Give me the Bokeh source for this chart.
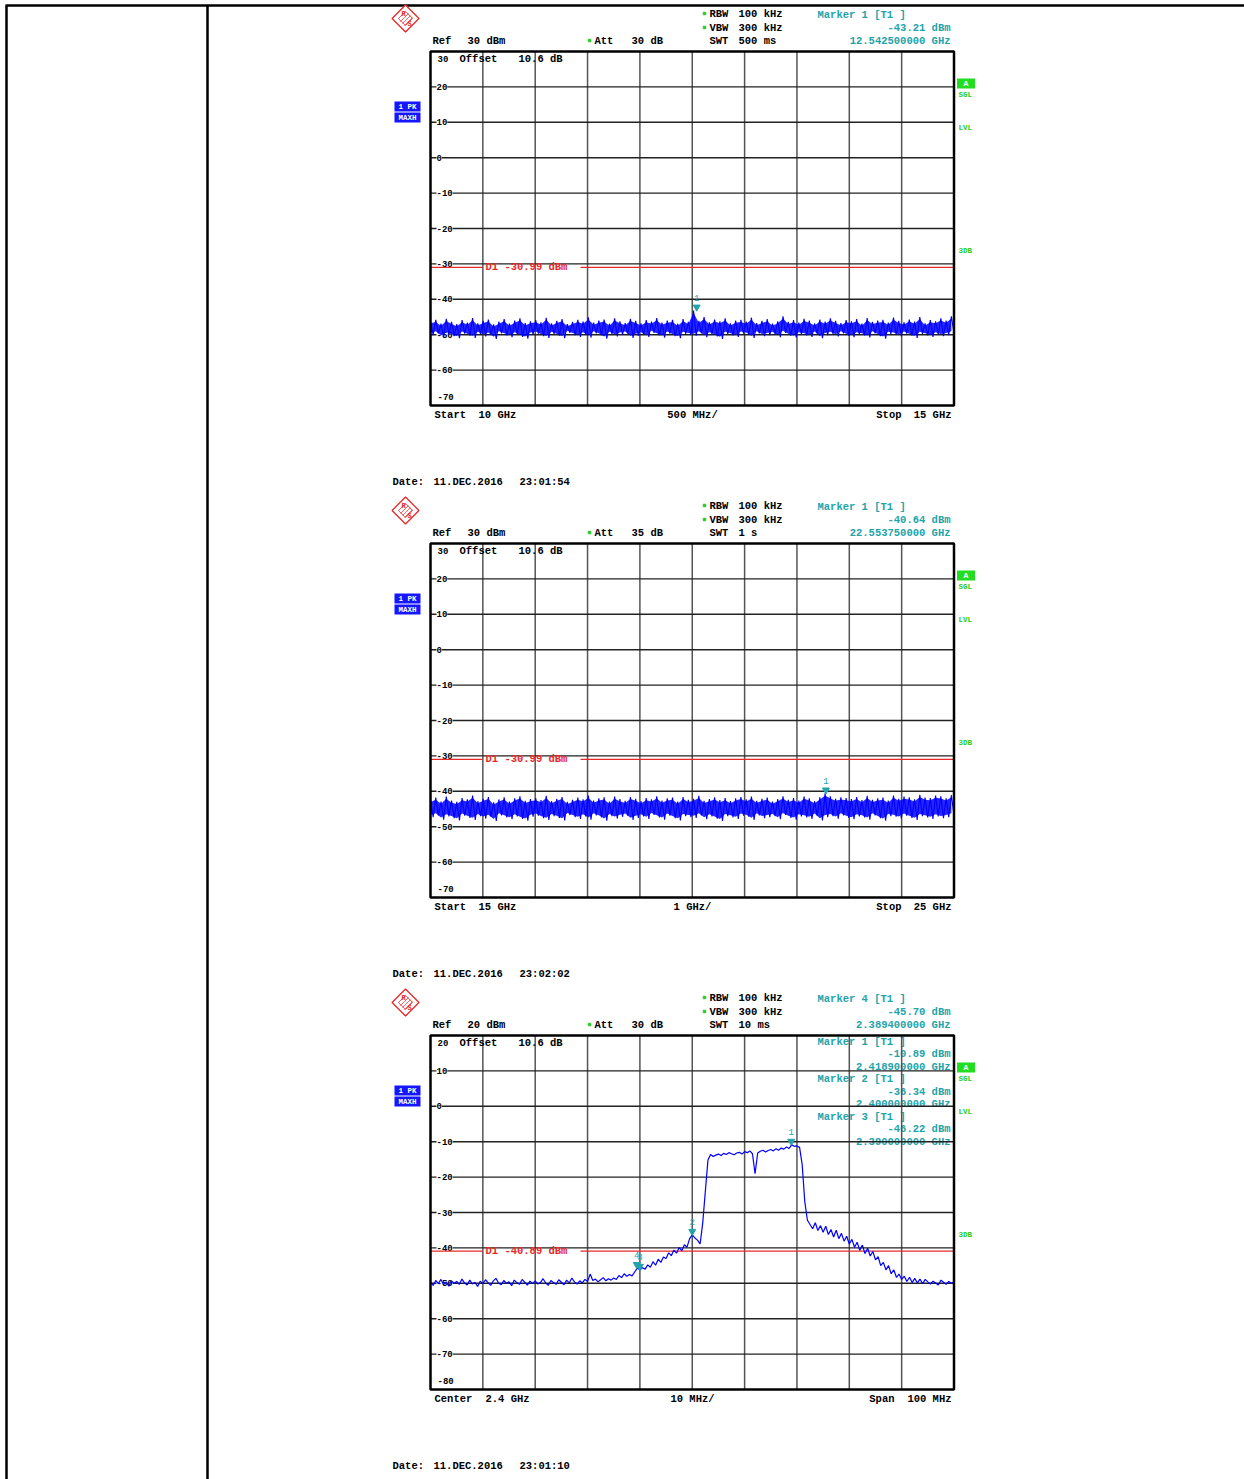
import numpy as np
from bokeh.plotting import figure
from bokeh.models import Range1d
from bokeh.core.properties import value
from bokeh.embed import file_html
from bokeh.resources import INLINE

# ===================== DATA =====================
# ---- Screen 1 : 10 GHz .. 15 GHz (peak-hold noise, envelope max/min per point pair)
s1_start_ghz, s1_stop_ghz = 10.0, 15.0
s1_ref_dbm, s1_bottom_dbm = 30, -70
s1_trace_max_dbm = [
    -46.2, -45.8, -46.9, -45.5, -46.4, -47.0, -45.9, -46.6, -45.3, -46.8,
    -46.1, -45.7, -47.1, -46.3, -45.6, -46.9, -46.0, -45.4, -46.7, -46.2,
    -45.9, -46.5, -45.2, -46.8, -46.1, -45.6, -47.0, -46.4, -45.8, -46.3,
    -45.1, -46.6, -46.0, -45.7, -46.9, -45.4, -46.2, -46.7, -45.5, -46.1,
    -46.8, -45.9, -46.3, -45.3, -46.6, -46.0, -45.8, -46.9, -45.6, -46.4,
    -43.2, -46.1, -45.0, -46.5, -45.7, -46.2, -45.4, -46.8, -46.0, -45.8,
    -46.3, -45.2, -46.7, -46.1, -45.6, -46.9, -46.2, -44.8, -46.4, -45.9,
    -46.6, -45.5, -46.0, -46.8, -45.7, -46.3, -45.4, -46.1, -46.7, -45.9,
    -46.2, -45.6, -46.9, -45.3, -46.4, -46.0, -45.8, -46.6, -45.2, -46.1,
    -46.5, -45.7, -46.3, -45.0, -46.8, -45.9, -46.2, -45.4, -46.0, -44.8]
s1_trace_min_dbm = [
    -50.1, -49.6, -50.8, -49.9, -50.4, -51.0, -49.7, -50.3, -50.9, -49.8,
    -50.5, -50.0, -51.2, -49.6, -50.2, -50.7, -49.9, -50.6, -51.1, -50.0,
    -49.7, -50.4, -50.9, -49.8, -50.3, -51.0, -49.5, -50.1, -50.6, -49.9,
    -50.8, -49.6, -50.2, -51.1, -49.8, -50.5, -50.0, -49.7, -50.9, -50.3,
    -49.9, -50.6, -49.5, -50.2, -50.8, -49.7, -50.4, -51.0, -49.8, -50.1,
    -50.3, -49.6, -50.7, -49.9, -50.5, -51.2, -49.8, -50.2, -50.6, -49.7,
    -50.0, -50.9, -49.6, -50.4, -50.1, -49.8, -50.7, -49.5, -50.3, -50.8,
    -49.9, -50.2, -50.6, -49.7, -51.0, -50.1, -49.8, -50.5, -49.6, -50.3,
    -50.7, -49.9, -50.2, -50.8, -49.6, -50.4, -51.1, -49.8, -50.0, -50.5,
    -49.7, -50.3, -50.9, -49.8, -50.2, -50.6, -49.9, -50.4, -50.1, -49.6]
s1_marker_ghz, s1_marker_dbm = 12.5425, -43.21
s1_d1_dbm = -30.99

# ---- Screen 2 : 15 GHz .. 25 GHz
s2_start_ghz, s2_stop_ghz = 15.0, 25.0
s2_ref_dbm, s2_bottom_dbm = 30, -70
s2_trace_max_dbm = [
    -42.4, -41.8, -42.9, -41.5, -42.6, -43.0, -41.9, -42.3, -41.2, -42.8,
    -42.1, -41.6, -43.1, -42.3, -41.7, -42.9, -42.0, -41.4, -42.7, -42.2,
    -41.9, -42.5, -41.3, -42.8, -42.1, -41.6, -43.0, -42.4, -41.8, -42.3,
    -41.2, -42.6, -42.0, -41.7, -42.9, -41.5, -42.2, -42.7, -41.6, -42.1,
    -42.8, -41.9, -42.3, -41.4, -42.6, -42.0, -41.8, -42.9, -41.6, -42.4,
    -42.1, -41.3, -42.7, -42.2, -41.7, -42.5, -41.9, -42.8, -42.0, -41.6,
    -42.3, -41.5, -42.7, -42.1, -41.8, -42.9, -42.2, -41.4, -42.4, -41.9,
    -42.6, -41.5, -42.0, -42.8, -41.7, -40.6, -41.4, -42.1, -41.7, -41.9,
    -42.2, -41.6, -42.5, -41.3, -42.4, -42.0, -41.8, -42.6, -41.2, -42.1,
    -41.5, -41.7, -42.3, -41.0, -41.8, -41.9, -41.2, -41.4, -42.0, -41.1]
s2_trace_min_dbm = [
    -47.3, -46.8, -48.0, -47.1, -47.6, -48.2, -46.9, -47.5, -48.1, -47.0,
    -47.7, -47.2, -48.4, -46.8, -47.4, -47.9, -47.1, -47.8, -48.3, -47.2,
    -46.9, -47.6, -48.1, -47.0, -47.5, -48.2, -46.7, -47.3, -47.8, -47.1,
    -48.0, -46.8, -47.4, -48.3, -47.0, -47.7, -47.2, -46.9, -48.1, -47.5,
    -47.1, -47.8, -46.7, -47.4, -48.0, -46.9, -47.6, -48.2, -47.0, -47.3,
    -47.5, -46.8, -47.9, -47.1, -47.7, -48.4, -47.0, -47.4, -47.8, -46.9,
    -47.2, -48.1, -46.8, -47.6, -47.3, -47.0, -47.9, -46.7, -47.5, -48.0,
    -47.1, -47.4, -47.8, -46.9, -48.2, -47.3, -47.0, -47.7, -46.8, -47.5,
    -47.9, -47.1, -47.4, -48.0, -46.8, -47.6, -48.3, -47.0, -47.2, -47.7,
    -46.9, -47.5, -48.1, -47.0, -47.4, -47.8, -47.1, -47.6, -47.3, -46.8]
s2_marker_ghz, s2_marker_dbm = 22.55375, -40.64
s2_d1_dbm = -30.99

# ---- Screen 3 : centre 2.4 GHz, span 100 MHz (x in MHz, 0.5 MHz steps)
s3_start_mhz, s3_stop_mhz = 2350.0, 2450.0
s3_ref_dbm, s3_bottom_dbm = 20, -80
s3_trace_dbm = [
    -49.8, -50.6, -49.2, -50.1, -48.9, -50.4, -49.6, -50.8, -49.3, -50.0,
    -49.5, -50.3, -48.8, -49.9, -50.5, -49.1, -50.2, -49.7, -50.9, -49.4,
    -50.1, -49.0, -49.8, -50.6, -49.3, -48.6, -49.9, -50.4, -49.2, -50.0,
    -49.6, -50.7, -49.1, -49.8, -50.3, -48.9, -49.7, -50.5, -49.4, -50.1,
    -49.3, -50.2, -49.8, -48.7, -49.9, -50.6, -49.2, -49.8, -50.3, -49.0,
    -49.7, -50.4, -49.1, -49.9, -48.5, -49.6, -50.2, -49.3, -49.9, -48.9,
    -49.5, -47.4, -49.2, -48.8, -49.6, -49.0, -48.4, -49.3, -48.7, -49.1,
    -48.5, -48.9, -47.8, -48.4, -47.3, -48.0, -47.5, -47.9, -46.8, -45.7,
    -46.2, -45.6, -46.0, -44.8, -45.5, -43.9, -44.9, -43.2, -44.1, -42.6,
    -43.0, -41.4, -42.2, -40.6, -41.5, -39.9, -40.8, -39.1, -39.8, -37.4,
    -36.3, -37.2, -37.8, -38.9, -33.0, -24.0, -15.2, -13.6, -14.2, -13.8,
    -13.5, -13.9, -13.3, -13.6, -13.1, -13.4, -13.7, -13.2, -13.0, -13.5,
    -12.8, -13.1, -12.6, -13.4, -19.0, -13.2, -12.7, -12.4, -12.9, -12.5,
    -12.2, -12.6, -12.0, -12.4, -11.8, -12.1, -11.5, -11.9, -10.9, -11.3,
    -11.2, -11.6, -16.5, -27.0, -32.2, -33.4, -34.6, -32.9, -35.1, -33.7,
    -35.6, -33.9, -36.2, -34.8, -36.9, -35.0, -37.4, -35.9, -38.1, -36.7,
    -38.9, -37.6, -39.8, -38.4, -40.7, -39.2, -41.6, -40.1, -42.3, -41.0,
    -43.4, -42.5, -45.0, -44.1, -46.2, -45.0, -47.3, -46.2, -48.3, -47.4,
    -48.9, -48.0, -49.5, -48.3, -49.8, -48.6, -49.9, -48.8, -50.1, -48.9,
    -49.6, -50.2, -49.4, -49.9, -50.5, -49.1, -49.7, -50.3, -49.5, -50.0,
    -49.6]
s3_marker_ids = ["1", "2", "3", "4"]
s3_marker_mhz = [2418.9, 2400.0, 2390.0, 2389.4]
s3_marker_dbm = [-10.89, -36.34, -46.22, -45.70]
s3_d1_dbm = -40.89

# header texts
hdr_ref = ["30 dBm", "30 dBm", "20 dBm"]
hdr_att = ["30 dB", "35 dB", "30 dB"]
hdr_swt = ["500 ms", "1 s", "10 ms"]
hdr_mk_title = ["Marker 1 [T1 ]", "Marker 1 [T1 ]", "Marker 4 [T1 ]"]
hdr_mk_level = ["-43.21 dBm", "-40.64 dBm", "-45.70 dBm"]
hdr_mk_freq = ["12.542500000 GHz", "22.553750000 GHz", "2.389400000 GHz"]
foot_left = [("Start", "10 GHz"), ("Start", "15 GHz"), ("Center", "2.4 GHz")]
foot_mid = ["500 MHz/", "1 GHz/", "10 MHz/"]
foot_right = [("Stop", "15 GHz"), ("Stop", "25 GHz"), ("Span", "100 MHz")]
dates = ["11.DEC.2016", "11.DEC.2016", "11.DEC.2016"]
times = ["23:01:54", "23:02:02", "23:01:10"]
d1_texts = ["D1 -30.99 dBm", "D1 -30.99 dBm", "D1 -40.89 dBm"]
s3_mk_block = [("Marker 1 [T1 ]", "-10.89 dBm", "2.418900000 GHz"),
               ("Marker 2 [T1 ]", "-36.34 dBm", "2.400000000 GHz"),
               ("Marker 3 [T1 ]", "-46.22 dBm", "2.390000000 GHz")]

# ===================== LAYOUT =====================
FX0, FY0 = 0, 0
W, H = 1244, 1479
L, R = 430.0, 953.5
TOPS = [51.0, 543.0, 1035.0]
HGT = 354.0

BLUE = "#0000ff"
TEAL = "#23a3aa"
GREEN = "#22cc22"
RED = "#e62a2a"
FONT = value("Liberation Mono")

p = figure(width=W, height=H, output_backend="svg", toolbar_location=None,
           x_range=Range1d(FX0, FX0 + W), y_range=Range1d(FY0 + H, FY0),
           x_axis_type=None, y_axis_type=None, min_border=0)
p.outline_line_color = None
p.background_fill_color = "white"
p.border_fill_color = "white"


def txt(x, y, s, color="black", size=11, align="left", xr="default", yr="default",
        bg=None, style="bold"):
    kw = dict(x=[x], y=[y], text=[s], text_font=FONT, text_font_size=f"{size}px",
              text_color=color, text_align=align, text_baseline="middle",
              text_font_style=style, x_range_name=xr, y_range_name=yr)
    if bg is not None:
        kw["background_fill_color"] = bg
    p.text(**kw)


# ---- table lines
p.segment(x0=[5, 6, 207], y0=[5, 5, 5], x1=[FX0 + W, 6, 207], y1=[5, FY0 + H, FY0 + H],
          line_color="black", line_width=2.5)

charts = [
    dict(name="c1", x0=s1_start_ghz, x1=s1_stop_ghz, yt=s1_ref_dbm, yb=s1_bottom_dbm),
    dict(name="c2", x0=s2_start_ghz, x1=s2_stop_ghz, yt=s2_ref_dbm, yb=s2_bottom_dbm),
    dict(name="c3", x0=s3_start_mhz, x1=s3_stop_mhz, yt=s3_ref_dbm, yb=s3_bottom_dbm),
]

for k, c in enumerate(charts):
    T = TOPS[k]
    B = T + HGT
    n = c["name"]
    sx = (c["x1"] - c["x0"]) / (R - L)
    p.extra_x_ranges[n] = Range1d(c["x0"] + (FX0 - L) * sx, c["x0"] + (FX0 + W - L) * sx)
    sy = (c["yt"] - c["yb"]) / (B - T)
    p.extra_y_ranges[n] = Range1d(c["yt"] - (FY0 + H - T) * sy, c["yt"] - (FY0 - T) * sy)

    # ---- R&S logo
    lx, ly = 405, T - 33
    p.scatter(x=[lx], y=[ly], marker="square", angle=np.pi / 4, size=19,
              fill_color="white", line_color=RED, line_width=1.3)
    p.scatter(x=[lx], y=[ly], marker="square", angle=np.pi / 4, size=10,
              fill_color=None, line_color=RED, line_width=0.8)
    p.segment(x0=[lx - 5, lx - 3, lx - 1], y0=[ly + 3, ly + 5, ly + 7],
              x1=[lx + 3, lx + 5, lx + 7], y1=[ly - 5, ly - 3, ly - 1],
              line_color=RED, line_width=0.7)
    txt(lx - 4, ly - 5, "R", RED, 7)
    txt(lx + 4, ly + 5, "S", RED, 7, align="center")

    # ---- header
    p.scatter(x=[704, 704, 589], y=[T - 38, T - 24, T - 11], marker="square", size=2.5,
              color=GREEN)
    txt(709, T - 38, "RBW", size=10.5)
    txt(738, T - 38, "100 kHz", size=10.5)
    txt(709, T - 24, "VBW", size=10.5)
    txt(738, T - 24, "300 kHz", size=10.5)
    txt(709, T - 11, "SWT", size=10.5)
    txt(738, T - 11, hdr_swt[k], size=10.5)
    txt(432, T - 11, "Ref", size=10.5)
    txt(467, T - 11, hdr_ref[k], size=10.5)
    txt(594, T - 11, "Att", size=10.5)
    txt(631, T - 11, hdr_att[k], size=10.5)
    txt(817, T - 37, hdr_mk_title[k], TEAL, 10.5)
    txt(950, T - 24, hdr_mk_level[k], TEAL, 10.5, align="right")
    txt(950, T - 11, hdr_mk_freq[k], TEAL, 10.5, align="right")

    # ---- left trace-mode box
    p.rect(x=[407, 407], y=[T + 55, T + 66], width=26, height=10, fill_color="#1515ff",
           line_color=None)
    txt(407, T + 55, "1 PK", "white", 7.5, align="center")
    txt(407, T + 66, "MAXH", "white", 7.5, align="center")

    # ---- right side status
    p.rect(x=[965.5], y=[T + 32], width=18, height=10, fill_color="#22dd22", line_color=None)
    txt(965.5, T + 32, "A", "white", 8, align="center")
    txt(958, T + 43, "SGL", GREEN, 7.5)
    txt(958, T + 76, "LVL", GREEN, 7.5)
    txt(958, T + 199, "3DB", GREEN, 7.5)

    # ---- marker text block inside screen 3 (under the grid)
    if k == 2:
        for j, (t1, t2, t3) in enumerate(s3_mk_block):
            yy = T + 6 + 37.5 * j
            txt(817, yy, t1, TEAL, 10.5)
            txt(950, yy + 12.5, t2, TEAL, 10.5, align="right")
            txt(950, yy + 25, t3, TEAL, 10.5, align="right")

    # ---- graticule
    xs = [c["x0"] + i * (c["x1"] - c["x0"]) / 10 for i in range(1, 10)]
    p.segment(x0=xs, y0=[c["yb"]] * 9, x1=xs, y1=[c["yt"]] * 9, line_color="#555555",
              line_width=1.5, x_range_name=n, y_range_name=n)
    ys = [c["yb"] + 10 * j for j in range(1, 10)]
    p.segment(x0=[c["x0"]] * 9, y0=ys, x1=[c["x1"]] * 9, y1=ys, line_color="#222222",
              line_width=1.4, x_range_name=n, y_range_name=n)

    # ---- level labels
    for v in ys:
        txt(436, v, f"{v:d}", size=9, yr=n, bg="white")
    txt(437, c["yt"] - 2.0, f"{c['yt']:d}", size=9, yr=n)
    txt(437, c["yb"] + 2.5, f"{c['yb']:d}", size=9, yr=n)
    txt(459, c["yt"] - 2.0, "Offset", size=10.5, yr=n)
    txt(518, c["yt"] - 2.0, "10.6 dB", size=10.5, yr=n)

    # ---- D1 display line
    d1 = [s1_d1_dbm, s2_d1_dbm, s3_d1_dbm][k]
    p.segment(x0=[L, 580], x1=[482, R], y0=[d1, d1], y1=[d1, d1], line_color=RED,
              line_width=1.2, y_range_name=n)
    txt(485, d1, d1_texts[k], RED, 10.5, yr=n)

    # ---- footer
    txt(434, B + 9, foot_left[k][0], size=10.5)
    txt(478 if k < 2 else 485, B + 9, foot_left[k][1], size=10.5)
    txt(692, B + 9, foot_mid[k], size=10.5, align="center")
    txt(901 if k < 2 else 894, B + 9, foot_right[k][0], size=10.5, align="right")
    txt(951, B + 9, foot_right[k][1], size=10.5, align="right")
    txt(392, B + 76, "Date:", size=10.5)
    txt(433, B + 76, dates[k], size=10.5)
    txt(519, B + 76, times[k], size=10.5)


# ---- traces
def sweep(start, stop, hi, lo):
    m = len(hi)
    dx = (stop - start) / (m - 0.5)
    xh = start + dx * np.arange(m)
    xl = xh + dx / 2
    xx = np.empty(2 * m)
    yy = np.empty(2 * m)
    xx[0::2], xx[1::2] = xh, xl
    yy[0::2], yy[1::2] = hi, lo
    return xh, xx, yy


for n, st, sp, hi, lo in [("c1", s1_start_ghz, s1_stop_ghz, s1_trace_max_dbm, s1_trace_min_dbm),
                          ("c2", s2_start_ghz, s2_stop_ghz, s2_trace_max_dbm, s2_trace_min_dbm)]:
    xh, xx, yy = sweep(st, sp, hi, lo)
    p.varea(x=xh, y1=np.array(lo) + 0.6, y2=np.array(hi) - 0.6, fill_color=BLUE,
            fill_alpha=0.85, x_range_name=n, y_range_name=n)
    p.line(xx, yy, line_color=BLUE, line_width=1.1, x_range_name=n, y_range_name=n)

s3_x = np.linspace(s3_start_mhz, s3_stop_mhz, len(s3_trace_dbm))
p.line(s3_x, s3_trace_dbm, line_color=BLUE, line_width=1.2, x_range_name="c3", y_range_name="c3")

# ---- markers
mk = [("c1", [s1_marker_ghz], [s1_marker_dbm], ["1"]),
      ("c2", [s2_marker_ghz], [s2_marker_dbm], ["1"]),
      ("c3", s3_marker_mhz, s3_marker_dbm, s3_marker_ids)]
for n, mx, my, ids in mk:
    my = np.array(my, dtype=float)
    p.scatter(x=mx, y=my + 1.0, marker="inverted_triangle", size=7, color=TEAL,
              x_range_name=n, y_range_name=n)
    p.text(x=mx, y=my + 3.6, text=ids, text_font=FONT, text_font_size="9px",
           text_color=TEAL, text_align="center", text_baseline="middle",
           x_range_name=n, y_range_name=n)

# ---- screen frames
for c in charts:
    p.quad(left=[c["x0"]], right=[c["x1"]], top=[c["yt"]], bottom=[c["yb"]],
           fill_alpha=0, line_color="black", line_width=2.5,
           x_range_name=c["name"], y_range_name=c["name"])

open("out.html", "w").write(file_html(p, INLINE))
